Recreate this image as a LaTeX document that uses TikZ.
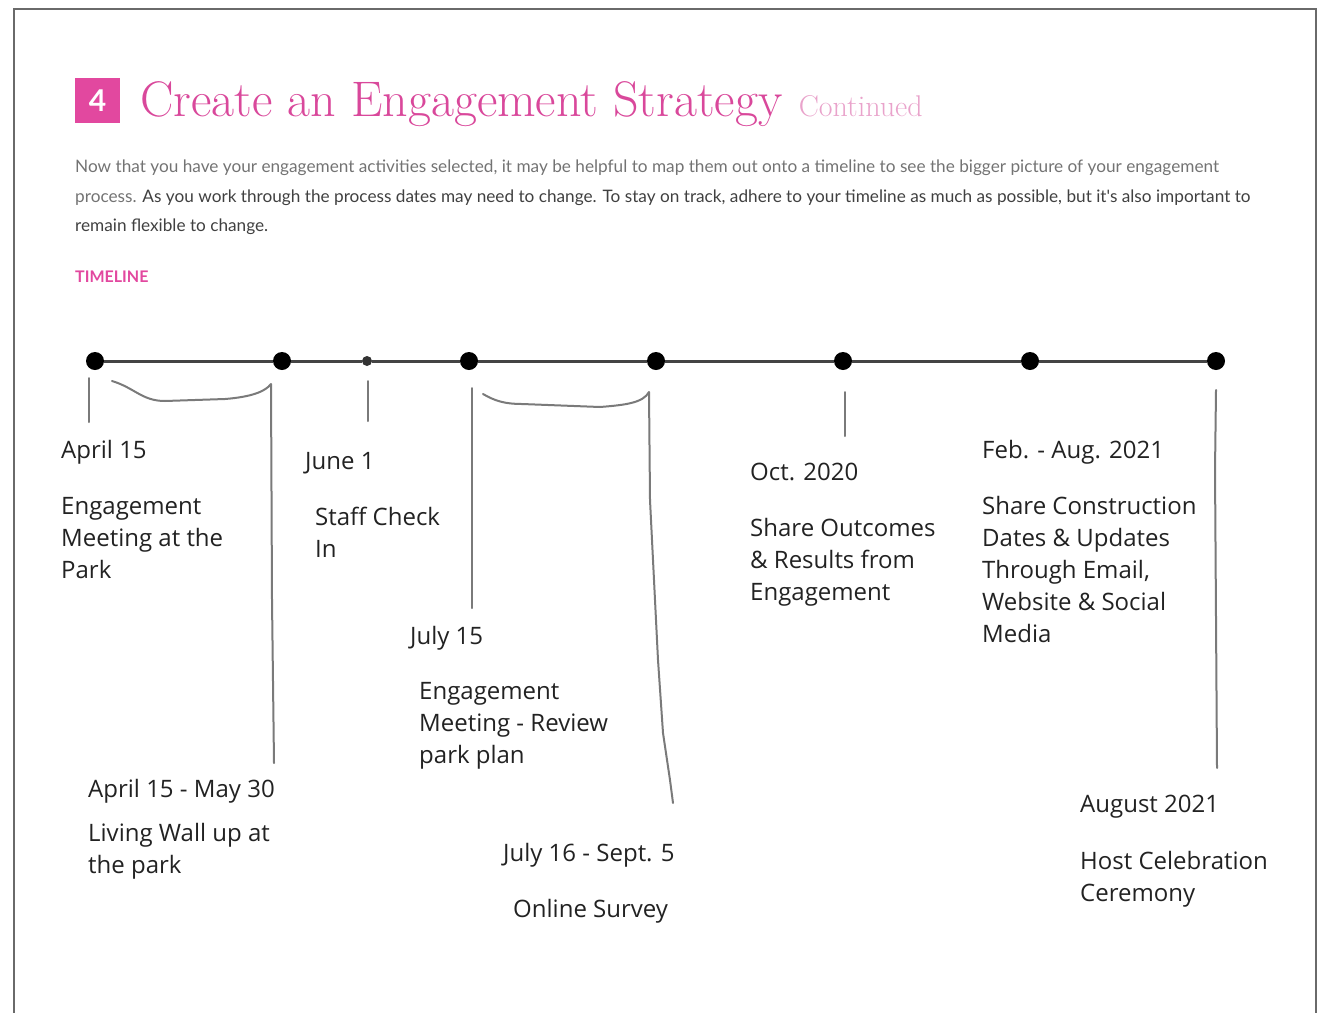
\documentclass[tikz,border=0pt]{standalone}
\usepackage{fontspec}
\newfontfamily\handfont{Open Sans}
\newfontfamily\bodyfont{Lato}
\definecolor{framegray}{HTML}{6A6A6A}
\definecolor{strategypink}{HTML}{E2489F}
\definecolor{titlepink}{HTML}{D9489B}
\definecolor{lightpink}{HTML}{E9A3CB}
\definecolor{linegray}{HTML}{444444}
\definecolor{pengray}{HTML}{7A7A7A}
\definecolor{inkblack}{HTML}{222222}

\begin{document}
\begin{tikzpicture}[x=1pt,y=-1pt,
  frame/.style={draw=framegray,line width=2.5pt},
  hand/.style={anchor=north west,inner sep=0pt,align=left,text=inkblack,
    font=\handfont\fontsize{24}{32}\selectfont},
  bigdot/.style={circle,fill=black,minimum size=18pt,inner sep=0pt},
  smalldot/.style={circle,fill=black!80,minimum size=10pt,inner sep=0pt},
  tline/.style={draw=linegray,line width=3pt},
  penline/.style={draw=pengray,line width=2pt,line cap=round,line join=round}]
\useasboundingbox (0,0) rectangle (1321,1012);
\draw[frame] (14,1013) -- (14,9) -- (1316,9) -- (1316,1013);

\node[fill=strategypink,minimum size=45pt,inner sep=0pt,text=white,
  font=\bodyfont\bfseries\fontsize{30}{30}\selectfont] (num) at (97.5,100.5) {4};
\node[anchor=base west,inner sep=0pt,text=titlepink,
  font=\fontsize{50}{50}\selectfont] (title) at (140,116) {Create an Engagement Strategy};
\node[anchor=base west,inner sep=0pt,text=lightpink,
  font=\fontsize{30}{30}\selectfont] (cont) at ([xshift=16pt]title.base east) {Continued};
\node[anchor=north west,inner sep=0pt,align=left,text=black!75,
  font=\bodyfont\fontsize{17.2}{29.5}\selectfont] (intro) at (75,160)
  {\textcolor{black!55}{Now that you have your engagement activities selected, it may be helpful to map them out onto a timeline to see the bigger picture of your engagement}\\
   \textcolor{black!55}{process.} As you work through the process dates may need to change. To stay on track, adhere to your timeline as much as possible, but it's also important to\\
   remain flexible to change.};
\node[anchor=west,inner sep=0pt,text=strategypink,
  font=\bodyfont\bfseries\fontsize{16}{16}\selectfont] (tlhead) at (75,277) {TIMELINE};

\node[bigdot] (d1) at (95,361) {};
\node[bigdot] (d2) at (282,361) {};
\node[smalldot] (d3) at (367,361) {};
\node[bigdot] (d4) at (469,361) {};
\node[bigdot] (d5) at (656,361) {};
\node[bigdot] (d6) at (843,361) {};
\node[bigdot] (d7) at (1030,361) {};
\node[bigdot] (d8) at (1216,361) {};
\draw[tline] (d1) -- (d2) -- (d3) -- (d4) -- (d5) -- (d6) -- (d7) -- (d8);

\draw[penline] (89,378) -- (89,422);
\draw[penline] (112,381) .. controls (135,388) and (142,401) .. (165,401)
  -- (225,399) .. controls (250,397) and (265,392) .. (271,384) -- (272,600) -- (274,763);
\draw[penline] (368,381) -- (368,421);
\draw[penline] (472,388) -- (472,608);
\draw[penline] (483,394) .. controls (495,401) and (505,404) .. (522,404)
  -- (600,407) .. controls (625,405) and (643,403) .. (649,392)
  -- (650,500) -- (655,600) -- (658,660) -- (663,733) -- (670,780) -- (673,803);
\draw[penline] (845,392) -- (845,436);
\draw[penline] (1216,390) -- (1215,470) -- (1217,768);

\node[hand] (apr) at (61,440) {April 15};
\node[hand] (aprtxt) at (61,497) {Engagement\\Meeting at the\\Park};
\node[hand] (jun) at (305,452) {June 1};
\node[hand] (juntxt) at (315,507) {Staff Check\\In};
\node[hand] (jul) at (410,626) {July 15};
\node[hand] (jultxt) at (419,682) {Engagement\\Meeting - Review\\park plan};
\node[hand] (may) at (88,779) {April 15 - May 30};
\node[hand] (maytxt) at (88,823) {Living Wall up at\\the park};
\node[hand] (sep) at (503,843) {July 16 - Sept. 5};
\node[hand] (septxt) at (513,899) {Online Survey};
\node[hand] (oct) at (750,463) {Oct. 2020};
\node[hand] (octtxt) at (750,518) {Share Outcomes\\\& Results from\\Engagement};
\node[hand] (feb) at (982,440) {Feb. - Aug. 2021};
\node[hand] (febtxt) at (982,496) {Share Construction\\Dates \& Updates\\Through Email,\\Website \& Social\\Media};
\node[hand] (aug) at (1080,795) {August 2021};
\node[hand] (augtxt) at (1080,851) {Host Celebration\\Ceremony};
\end{tikzpicture}
\end{document}
